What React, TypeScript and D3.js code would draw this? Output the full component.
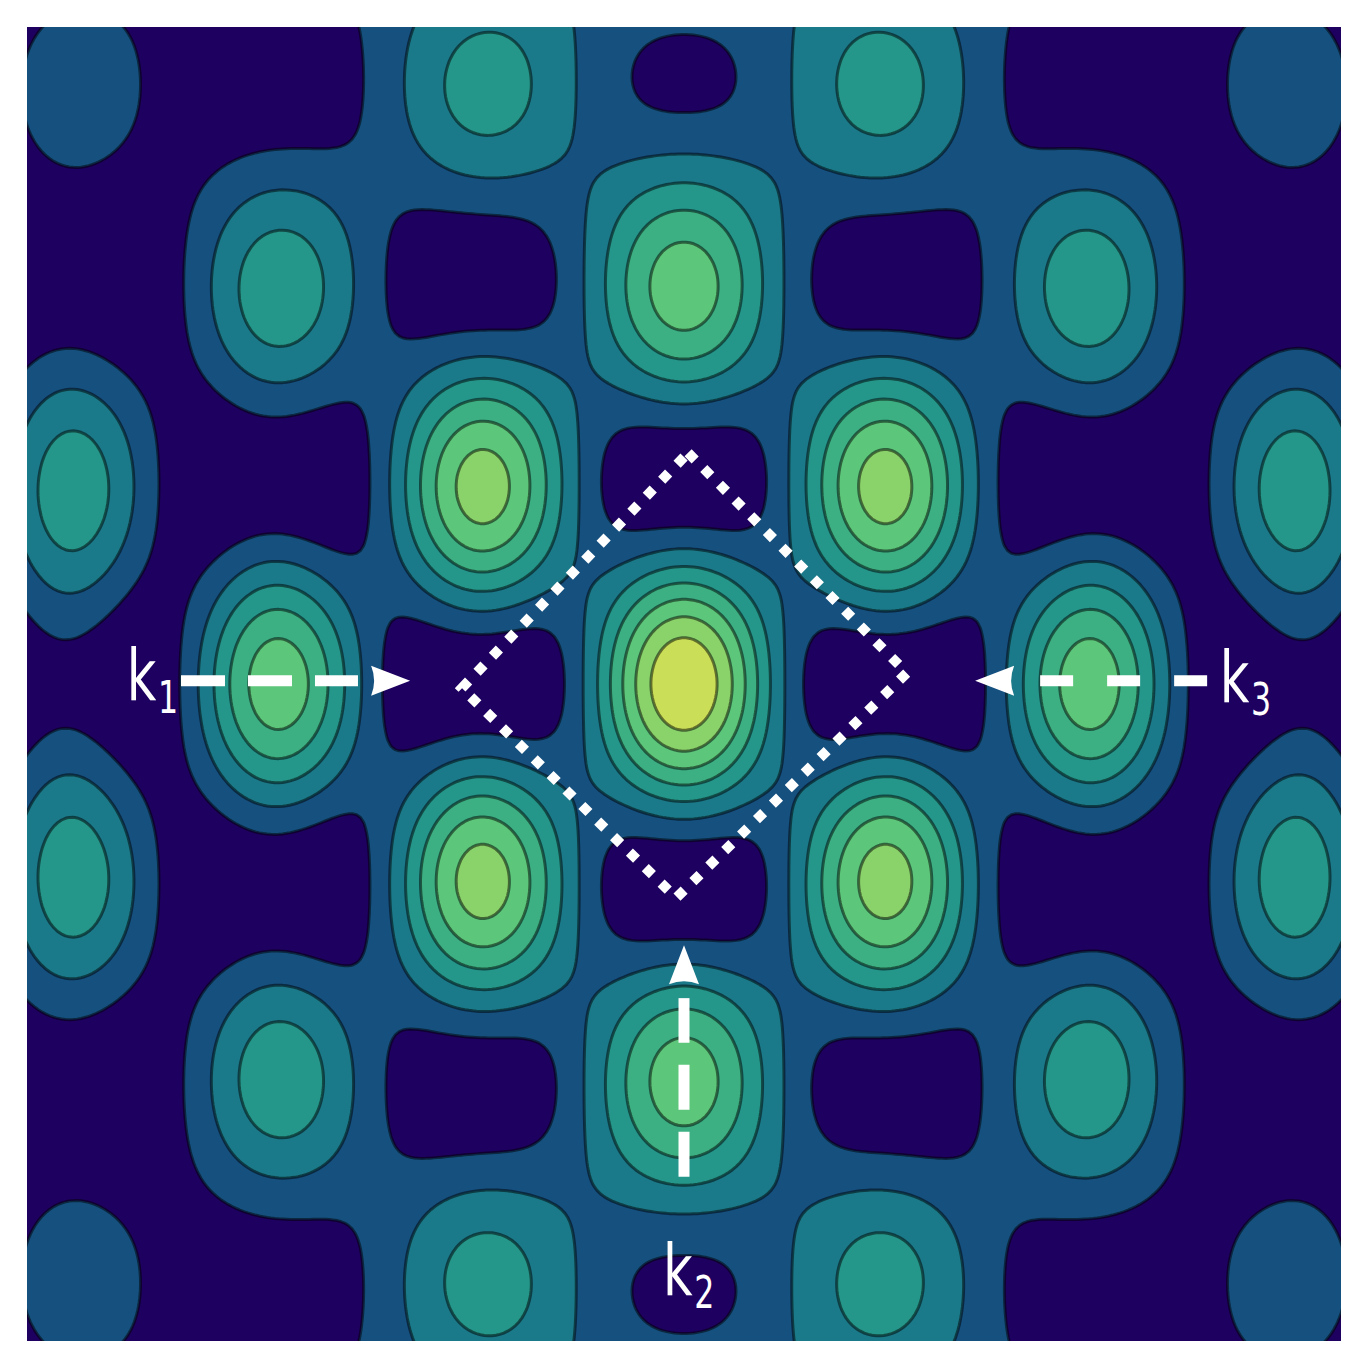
import * as d3 from 'd3';
import React, { useEffect, useRef } from 'react';

// three beams crossing: k1 from the left, k2 from below, k3 from the right
// lengths are in wavelengths
const beamNames = ['1', '2', '3'];
const beamDirections = [[1, 0], [0, 1], [-1, 0]];
const beamAmplitudes = [1, 2, 1];
const beamWaists = [1.57, 1.675, 1.57];
const beamProfileOrder = [2, 1.85, 2];

const domainExtent = [-1.6, 1.6];
const thresholds = [2, 4, 6, 8, 10, 12, 14];
const bandColors = ['#1e0060', '#15507f', '#1b7a89', '#24968a', '#3cb083', '#5cc67a', '#8ad26a', '#cadf57'];

// annotation positions (wavelength units), one per beam
const arrowTails = [[-1.225, 0.008], [0, -1.2], [1.274, 0.008]];
const arrowEnds = [[-0.794, 0.008], [0, -0.765], [0.867, 0.008]];
const arrowTips = [[-0.667, 0.008], [0, -0.636], [0.709, 0.008]];
const labelPos = [[-1.357, -0.039], [-0.051, -1.488], [1.305, -0.044]];
const dashPatterns = ['44 23', '45 22', '33 34'];

// unit cell outline
const cellVertices = [[0.01, 0.563], [0.543, 0.027], [-0.019, -0.521], [-0.541, -0.01]];

function intensity(x: number, y: number): number {
    let re = 0;
    let im = 0;
    beamDirections.forEach(([dx, dy], b) => {
        const along = x * dx + y * dy;
        const across = Math.abs(-x * dy + y * dx);
        const env = beamAmplitudes[b] * Math.exp(-Math.pow(across / beamWaists[b], beamProfileOrder[b]));
        const ph = 2 * Math.PI * along;
        re += env * Math.cos(ph);
        im += env * Math.sin(ph);
    });
    return re * re + im * im;
}

export default () => {
    const ref = useRef<any>();

    useEffect(() => {
        const left = 27, right = 1341, top = 27, bottom = 1341;

        const svg = d3.select<any, any>(ref.current);
        svg.selectAll('*').remove();

        const xs = d3.scaleLinear().domain(domainExtent).range([left, right]);
        const ys = d3.scaleLinear().domain(domainExtent).range([bottom, top]);

        // grid slightly larger than the plot so contour lines don't run along the border
        const n = 360;
        const pad = 0.1;
        const lo = domainExtent[0] - pad;
        const hi = domainExtent[1] + pad;
        const step = (hi - lo) / n;
        const values = new Float64Array(n * n);
        for (let j = 0; j < n; j++) {
            const y = hi - (j + 0.5) * step;
            for (let i = 0; i < n; i++) {
                const x = lo + (i + 0.5) * step;
                values[j * n + i] = intensity(x, y);
            }
        }

        const contours = d3.contours().size([n, n]).thresholds(thresholds)(values as any);
        const path = d3.geoPath(d3.geoTransform({
            point: function (gx: number, gy: number) {
                (this as any).stream.point(xs(lo + gx * step), ys(hi - gy * step));
            },
        }));

        svg.append('defs').append('clipPath').attr('id', 'plot-clip')
            .append('rect')
            .attr('x', left).attr('y', top)
            .attr('width', right - left).attr('height', bottom - top);

        const plot = svg.append('g').attr('clip-path', 'url(#plot-clip)');

        plot.append('rect')
            .attr('x', left).attr('y', top)
            .attr('width', right - left).attr('height', bottom - top)
            .attr('fill', bandColors[0]);

        plot.selectAll('path.band')
            .data(contours)
            .join('path')
            .attr('class', 'band')
            .attr('d', (d: any) => path(d))
            .attr('fill', (_d: any, i: number) => bandColors[i + 1]);

        plot.selectAll('path.line')
            .data(contours)
            .join('path')
            .attr('class', 'line')
            .attr('d', (d: any) => path(d))
            .attr('fill', 'none')
            .attr('stroke', '#000')
            .attr('stroke-opacity', 0.5)
            .attr('stroke-width', 3)
            .attr('stroke-linejoin', 'round');

        // unit cell (dotted diamond)
        const cell = d3.line()
            .x((d: any) => xs(d[0]))
            .y((d: any) => ys(d[1]))
            .curve(d3.curveLinearClosed);
        svg.append('path')
            .attr('d', cell(cellVertices as any))
            .attr('fill', 'none')
            .attr('stroke', '#fff')
            .attr('stroke-width', 10)
            .attr('stroke-dasharray', '10 12.2');

        // beam arrows
        const arrows = svg.append('g').attr('class', 'arrows');
        beamNames.forEach((name, b) => {
            const [tx, ty] = [xs(arrowTails[b][0]), ys(arrowTails[b][1])];
            const [ex, ey] = [xs(arrowEnds[b][0]), ys(arrowEnds[b][1])];
            const [px, py] = [xs(arrowTips[b][0]), ys(arrowTips[b][1])];

            arrows.append('line')
                .attr('x1', tx).attr('y1', ty)
                .attr('x2', ex).attr('y2', ey)
                .attr('stroke', '#fff')
                .attr('stroke-width', 11)
                .attr('stroke-dasharray', dashPatterns[b]);

            const len = Math.hypot(px - tx, py - ty);
            const ux = (px - tx) / len, uy = (py - ty) / len;
            const nx = -uy, ny = ux;
            const L = 39, W = 15, notch = 6;
            const head = d3.path();
            head.moveTo(px, py);
            head.lineTo(px - L * ux + W * nx, py - L * uy + W * ny);
            head.quadraticCurveTo(px - (L - notch) * ux, py - (L - notch) * uy,
                px - L * ux - W * nx, py - L * uy - W * ny);
            head.closePath();
            arrows.append('path').attr('d', head.toString()).attr('fill', '#fff');

            const label = arrows.append('text')
                .attr('transform', `translate(${xs(labelPos[b][0])},${ys(labelPos[b][1])}) scale(0.8,1)`)
                .attr('fill', '#fff')
                .style('font-family', '"Liberation Sans Narrow", "DejaVu Sans Condensed", "DejaVu Sans", sans-serif')
                .style('font-stretch', 'condensed');
            label.append('tspan').attr('font-size', 71).text('k');
            label.append('tspan').attr('font-size', 44).attr('dy', 13).attr('dx', 2).text(name);
        });
    }, []);

    return (
        <svg ref={ref} width={1368} height={1368}
            style={{ position: 'absolute', left: 0, top: 0, background: '#fff' }}></svg>
    );
};
